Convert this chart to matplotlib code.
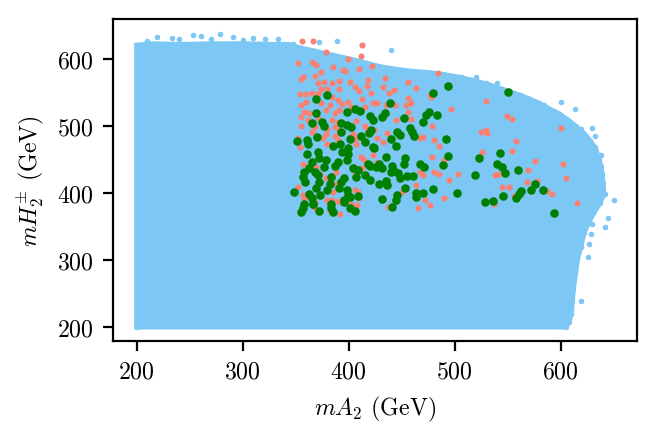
import matplotlib
matplotlib.use("Agg")
import matplotlib.pyplot as plt

# ---------------- data ----------------
# outline of the dense light-blue cloud (mA2, mH2+-)
blue_edge_x = [200, 200, 215, 240, 270, 300, 330, 344, 354, 368, 382, 396, 410, 429, 448, 466, 476,
               490, 504, 518, 532, 545, 551, 560, 570, 580, 589, 599, 608, 615, 622, 628, 633, 636,
               638, 639, 640, 641, 637, 631, 626, 622, 619, 616, 614, 612, 611, 610, 608, 605]
blue_edge_y = [200, 621, 623, 622, 623, 623, 622, 622, 617, 612, 607, 602, 597, 589, 584, 581, 580,
               577, 573, 568, 562, 555, 552, 547, 541, 534, 526, 518, 508, 499, 489, 478, 466, 452,
               440, 429, 415, 399, 385, 370, 355, 340, 320, 302, 280, 257, 238, 220, 208, 200]
# isolated blue points around the cloud
blue_out_x = [210, 219, 233, 240, 253, 261, 270, 279, 291, 300, 310, 321, 333, 347,
              372, 389, 413, 440, 507, 520, 530, 540, 563, 568, 584,
              600, 614, 619, 630, 633, 638, 642, 650, 636, 645, 642, 630, 629, 627,
              626, 619, 633, 633]
blue_out_y = [628, 633, 632, 630, 637, 635, 630, 638, 634, 629, 632, 630, 631, 623,
              626, 627, 621, 614, 574, 574, 565, 564, 547, 534, 531,
              536, 525, 496, 498, 486, 457, 399, 390, 390, 363, 350, 354, 339, 324,
              305, 239, 469, 456]

red_x = [356, 366, 379, 352, 365, 369, 385, 399, 412, 422, 410, 395, 397, 374, 368, 357, 371, 377,
         384, 391, 401, 418, 434, 406, 417, 432, 374, 380, 391, 410, 421, 438, 354, 360, 365, 371,
         384, 390, 399, 413, 423, 355, 360, 374, 382, 394, 402, 415, 427, 435, 358, 363, 379, 387,
         391, 355, 362, 371, 384, 390, 407, 415, 355, 368, 380, 387, 391, 402, 424,
         352, 354, 365, 379, 387, 390, 401, 407, 417, 427, 436, 467, 470, 481, 485, 497, 479, 490,
         495, 503, 481, 485, 470, 467, 464, 472, 477, 490, 465, 437, 450, 412, 414, 423, 409, 410,
         408, 390, 384, 390, 385, 373, 379, 365, 360, 352, 357, 363, 368, 382, 393, 445, 454, 456,
         464, 478, 484, 459, 444, 443, 413, 479, 427, 477, 456, 456, 459, 530, 549, 554, 525, 530,
         531, 600, 558, 526, 554, 576, 602, 569, 605, 538, 542, 545, 551, 568, 578, 587, 592, 556,
         537, 616,
         376, 380, 404, 407, 432, 357, 369, 388, 406, 413, 388, 406, 358, 380, 373, 402, 392, 368,
         355]
red_y = [628, 628, 611, 595, 596, 591, 588, 600, 605, 590, 586, 584, 583, 581, 575, 573, 564, 566,
         564, 568, 566, 569, 572, 558, 560, 558, 556, 556, 555, 553, 549, 550, 548, 548, 550, 548,
         543, 539, 536, 541, 535, 532, 536, 534, 531, 533, 529, 529, 535, 531, 521, 519, 524, 520,
         524, 514, 510, 513, 509, 506, 508, 501, 501, 499, 496, 499, 494, 499, 494,
         482, 469, 492, 489, 486, 479, 484, 482, 496, 482, 490, 482, 484, 480, 471, 525, 454, 450,
         420, 428, 432, 428, 427, 432, 412, 389, 382, 392, 378, 379, 401, 454, 449, 457, 402, 392,
         382, 388, 389, 412, 402, 429, 422, 437, 457, 409, 397, 394, 387, 374, 387, 509, 532, 566,
         557, 544, 580, 534, 531, 554, 622, 501, 447, 547, 542, 521, 511, 538, 515, 511, 492, 495,
         490, 498, 478, 462, 463, 448, 444, 435, 422, 427, 429, 409, 409, 417, 418, 403, 399, 396,
         383, 385,
         483, 474, 489, 474, 476, 444, 439, 432, 432, 437, 414, 404, 392, 389, 372, 384, 369, 377,
         571]

green_x = [380, 369, 494, 480, 550, 439, 398, 406, 411, 369, 434, 431, 452, 473, 476, 483, 470, 420,
           423, 375, 377, 365, 393, 398, 402, 421, 419, 370, 412, 415, 446, 448, 440, 445, 458, 460,
           462, 492, 351, 361, 362, 385, 392, 399, 394, 424, 435, 453, 452, 467, 471, 489, 494, 519,
           523, 418, 426, 429, 441, 443, 447, 440, 448, 455, 461, 415, 420, 429, 436, 407, 404, 453,
           464, 464, 470, 480, 502, 446, 445, 441, 431, 348, 357, 358, 355, 366, 372, 383, 385, 396,
           401, 406, 393, 401, 423, 361, 371, 372, 399, 398, 390, 387, 379, 377, 365, 363, 368, 420,
           431, 409, 435, 358, 357, 359, 371, 372, 369, 373, 383, 382, 380, 391, 393, 396, 398, 399,
           396, 401, 409, 363, 365, 366, 383, 543, 540, 545, 548, 560, 529, 536, 546, 558, 561, 563,
           572, 576, 583, 594]
green_y = [547, 540, 560, 550, 551, 535, 521, 525, 523, 520, 520, 514, 512, 517, 521, 516, 507, 515,
           509, 507, 500, 505, 505, 502, 499, 495, 490, 484, 486, 477, 492, 487, 481, 471, 497, 491,
           486, 481, 478, 480, 473, 471, 474, 468, 462, 468, 454, 452, 443, 443, 439, 442, 456, 427,
           452, 444, 439, 443, 441, 433, 430, 432, 422, 425, 426, 427, 419, 414, 412, 424, 438, 407,
           400, 394, 400, 406, 400, 397, 389, 379, 391, 401, 377, 383, 372, 383, 374, 378, 372, 386,
           377, 373, 492, 481, 469, 459, 462, 453, 458, 450, 447, 441, 449, 439, 447, 437, 432, 441,
           437, 434, 418, 432, 424, 417, 427, 417, 407, 397, 424, 414, 404, 407, 417, 422, 404, 397,
           389, 394, 396, 399, 392, 384, 384, 460, 443, 439, 430, 435, 387, 388, 396, 392, 398, 403,
           405, 413, 405, 370]

x_ticks = [200, 300, 400, 500, 600]
y_ticks = [200, 300, 400, 500, 600]

# ---------------- style ----------------
plt.rcParams['font.family'] = 'serif'
plt.rcParams['font.serif'] = ['cmr10', 'DejaVu Serif']
plt.rcParams['mathtext.fontset'] = 'cm'
plt.rcParams['axes.formatter.use_mathtext'] = True
plt.rcParams['font.size'] = 8.6

BLUE = '#7DC7F5'
RED = '#FA8072'
GREEN = '#008000'

fig = plt.figure(figsize=(3.29, 2.175), dpi=200)
ax = fig.add_axes([0.1717, 0.2131, 0.7969, 0.7398])

ax.fill(blue_edge_x, blue_edge_y, facecolor=BLUE, edgecolor=BLUE, linewidth=1.9, zorder=1)
ax.scatter(blue_edge_x, blue_edge_y, s=4.0, color=BLUE, linewidths=0, zorder=1)
ax.scatter(blue_out_x, blue_out_y, s=4.0, color=BLUE, linewidths=0, zorder=1)
ax.scatter(red_x, red_y, s=4.8, color=RED, linewidths=0, zorder=2)
ax.scatter(green_x, green_y, s=9.5, color=GREEN, linewidths=0, zorder=3)

ax.set_xlim(177.5, 672.5)
ax.set_ylim(178.5, 659.5)
ax.set_xticks(x_ticks)
ax.set_yticks(y_ticks)
ax.set_xlabel(r'$mA_2$ (GeV)')
ax.set_ylabel(r'$mH_2^{\pm}$ (GeV)')

fig.savefig('out.png', dpi=200)
